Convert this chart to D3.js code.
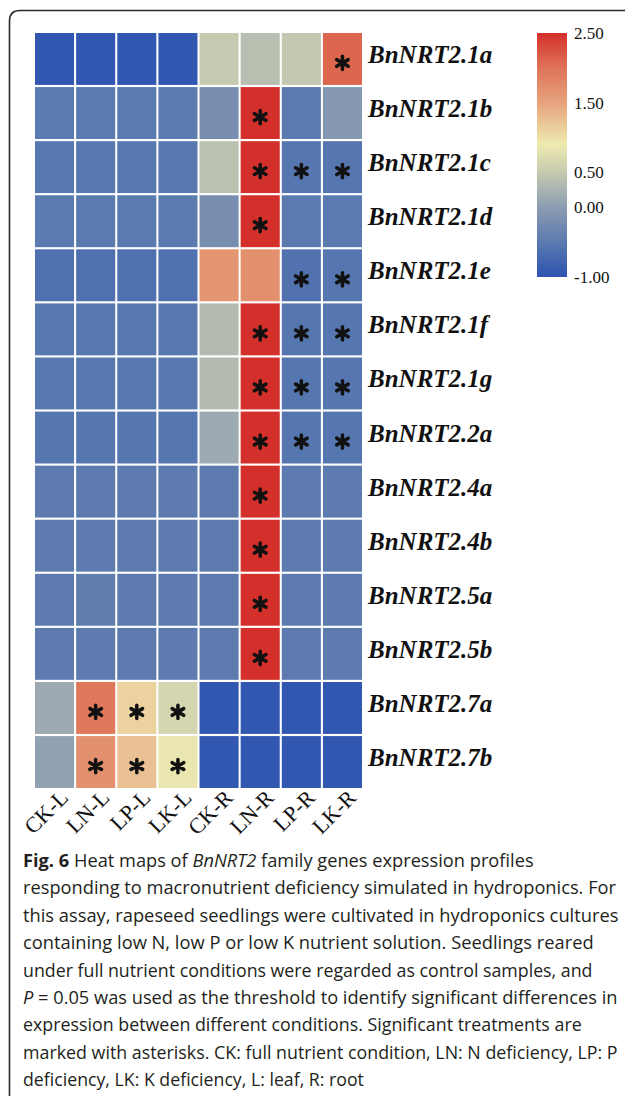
<!DOCTYPE html>
<html>
<head>
<meta charset="utf-8">
<script src="https://cdn.jsdelivr.net/npm/d3@7"></script>
<style>
  html, body { margin: 0; padding: 0; background: #fff; }
  svg { display: block; }
</style>
</head>
<body>
<svg id="chart" width="625" height="1096"></svg>
<script>
// Conditions (columns) and genes (rows)
const conditions = ["CK-L", "LN-L", "LP-L", "LK-L", "CK-R", "LN-R", "LP-R", "LK-R"];
const genes = ["BnNRT2.1a", "BnNRT2.1b", "BnNRT2.1c", "BnNRT2.1d", "BnNRT2.1e", "BnNRT2.1f",
  "BnNRT2.1g", "BnNRT2.2a", "BnNRT2.4a", "BnNRT2.4b", "BnNRT2.5a", "BnNRT2.5b", "BnNRT2.7a", "BnNRT2.7b"];

// Relative expression, one row per gene, in the order of `conditions`
const expr_21a = [-0.95, -0.95, -0.95, -0.95, 0.50, 0.38, 0.48, 2.10];
const expr_21b = [-0.50, -0.50, -0.50, -0.50, -0.20, 2.50, -0.50, -0.05];
const expr_21c = [-0.52, -0.52, -0.52, -0.52, 0.40, 2.50, -0.55, -0.55];
const expr_21d = [-0.50, -0.50, -0.50, -0.50, -0.20, 2.50, -0.50, -0.50];
const expr_21e = [-0.62, -0.62, -0.62, -0.62, 1.65, 1.70, -0.60, -0.55];
const expr_21f = [-0.52, -0.52, -0.52, -0.52, 0.35, 2.50, -0.55, -0.55];
const expr_21g = [-0.52, -0.52, -0.52, -0.52, 0.35, 2.50, -0.55, -0.55];
const expr_22a = [-0.55, -0.55, -0.55, -0.55, 0.15, 2.50, -0.55, -0.55];
const expr_24a = [-0.48, -0.48, -0.48, -0.48, -0.48, 2.50, -0.48, -0.48];
const expr_24b = [-0.48, -0.48, -0.48, -0.48, -0.48, 2.50, -0.48, -0.48];
const expr_25a = [-0.48, -0.45, -0.48, -0.48, -0.48, 2.50, -0.48, -0.48];
const expr_25b = [-0.48, -0.48, -0.48, -0.48, -0.48, 2.50, -0.48, -0.48];
const expr_27a = [0.15, 1.95, 1.10, 0.65, -0.95, -0.95, -0.95, -0.95];
const expr_27b = [0.05, 1.70, 1.25, 0.85, -0.95, -0.95, -0.95, -0.95];
const values = [expr_21a, expr_21b, expr_21c, expr_21d, expr_21e, expr_21f, expr_21g,
  expr_22a, expr_24a, expr_24b, expr_25a, expr_25b, expr_27a, expr_27b];

// Treatments with a significant difference (marked with an asterisk)
const significant = [
  ["LK-R"], ["LN-R"], ["LN-R", "LP-R", "LK-R"], ["LN-R"], ["LP-R", "LK-R"],
  ["LN-R", "LP-R", "LK-R"], ["LN-R", "LP-R", "LK-R"], ["LN-R", "LP-R", "LK-R"],
  ["LN-R"], ["LN-R"], ["LN-R"], ["LN-R"],
  ["LN-L", "LP-L", "LK-L"], ["LN-L", "LP-L", "LK-L"]
];

// Colour bar ticks
const legendTicks = [2.5, 1.5, 0.5, 0.0, -1.0];

// Colour ramp stops (value -> colour)
const rampValues = [-1, -0.5, 0, 0.5, 0.9, 1.5, 2.0, 2.5];
const rampColors = ["#2c53b0", "#5b7aaf", "#8b9cb2", "#c6cab0", "#eeeab0", "#e6a37e", "#df7357", "#d3302b"];

const svg = d3.select("#chart");

// Figure frame with rounded top-left corner
svg.append("path")
  .attr("d", "M9.5,1096 V21 Q9.5,10.5 20,10.5 H625")
  .attr("fill", "none")
  .attr("stroke", "#2a2a2a")
  .attr("stroke-width", 1.6);

const color = d3.scaleLinear().domain(rampValues).range(rampColors).clamp(true);

const x = d3.scaleBand().domain(conditions).range([35, 362]).paddingInner(0.05).paddingOuter(0);
const y = d3.scaleBand().domain(genes).range([33, 788]).paddingInner(0.04).paddingOuter(0);

const cells = [];
genes.forEach((g, i) => {
  conditions.forEach((c, j) => {
    cells.push({ gene: g, cond: c, v: values[i][j], sig: significant[i].includes(c) });
  });
});

const grid = svg.append("g");
grid.selectAll("rect")
  .data(cells)
  .join("rect")
  .attr("x", d => x(d.cond))
  .attr("y", d => y(d.gene))
  .attr("width", x.bandwidth())
  .attr("height", y.bandwidth())
  .attr("fill", d => color(d.v));

// Asterisks for significant treatments
const star = d3.symbol().type(d3.symbolAsterisk).size(125);
grid.selectAll("path.sig")
  .data(cells.filter(d => d.sig))
  .join("path")
  .attr("class", "sig")
  .attr("d", star)
  .attr("transform", d => `translate(${x(d.cond) + x.bandwidth() / 2},${y(d.gene) + y.bandwidth() / 2 + 4})`)
  .attr("fill", "none")
  .attr("stroke", "#111")
  .attr("stroke-width", 3.5)
  .attr("stroke-linecap", "round");

// Gene labels on the right
svg.append("g").selectAll("text")
  .data(genes)
  .join("text")
  .attr("x", 368)
  .attr("y", d => y(d) + y.bandwidth() / 2 + 4)
  .attr("font-family", "'Liberation Serif', 'Times New Roman', serif")
  .attr("font-style", "italic")
  .attr("font-weight", "bold")
  .attr("font-size", 25)
  .attr("fill", "#111")
  .text(d => d);

// Condition labels under the columns, rotated
svg.append("g").selectAll("text")
  .data(conditions)
  .join("text")
  .attr("transform", d => `translate(${x(d) + x.bandwidth() / 2 + 15},799) rotate(-45)`)
  .attr("text-anchor", "end")
  .attr("font-family", "'Liberation Serif', 'Times New Roman', serif")
  .attr("font-size", 22)
  .attr("fill", "#111")
  .text(d => d);

// Colour bar
const ly = d3.scaleLinear().domain([-1, 2.5]).range([277, 33]);
const grad = svg.append("defs").append("linearGradient")
  .attr("id", "ramp")
  .attr("x1", 0).attr("y1", 1).attr("x2", 0).attr("y2", 0);
grad.selectAll("stop")
  .data(rampValues)
  .join("stop")
  .attr("offset", d => (d - (-1)) / 3.5)
  .attr("stop-color", d => color(d));
svg.append("rect")
  .attr("x", 537).attr("y", ly(2.5))
  .attr("width", 30).attr("height", ly(-1) - ly(2.5))
  .attr("fill", "url(#ramp)");
svg.append("g").selectAll("text")
  .data(legendTicks)
  .join("text")
  .attr("x", 574)
  .attr("y", d => ly(d))
  .attr("dy", "0.35em")
  .attr("font-family", "'Liberation Serif', 'Times New Roman', serif")
  .attr("font-size", 17)
  .attr("fill", "#111")
  .text(d => d3.format(".2f")(d).replace("\u2212", "-"));

// Caption: text runs per line ("b" bold, "i" italic) and each line's set width
const captionLines = [
  [["Fig. 6", "b"], [" Heat maps of ", ""], ["BnNRT2", "i"], [" family genes expression profiles", ""]],
  [["responding to macronutrient deficiency simulated in hydroponics. For", ""]],
  [["this assay, rapeseed seedlings were cultivated in hydroponics cultures", ""]],
  [["containing low N, low P or low K nutrient solution. Seedlings reared", ""]],
  [["under full nutrient conditions were regarded as control samples, and", ""]],
  [["P", "i"], [" = 0.05 was used as the threshold to identify significant differences in", ""]],
  [["expression between different conditions. Significant treatments are", ""]],
  [["marked with asterisks. CK: full nutrient condition, LN: N deficiency, LP: P", ""]],
  [["deficiency, LK: K deficiency, L: leaf, R: root", ""]]
];
const captionWidths = [511, 594, 596, 571, 570, 595, 559, 595, 341];
const cap = svg.append("g");
const capLines = cap.selectAll("text")
  .data(captionLines)
  .join("text")
  .attr("font-family", "'Open Sans', sans-serif")
  .attr("font-size", 18)
  .attr("fill", "#231f20");
capLines.selectAll("tspan")
  .data(d => d)
  .join("tspan")
  .attr("font-weight", d => d[1] === "b" ? "bold" : null)
  .attr("font-style", d => d[1] === "i" ? "italic" : null)
  .text(d => d[0]);
capLines.attr("transform", function (d, i) {
  const k = captionWidths[i] / this.getComputedTextLength();
  return `translate(23,${867 + i * 27.4}) scale(${k},1)`;
});
</script>
</body>
</html>
